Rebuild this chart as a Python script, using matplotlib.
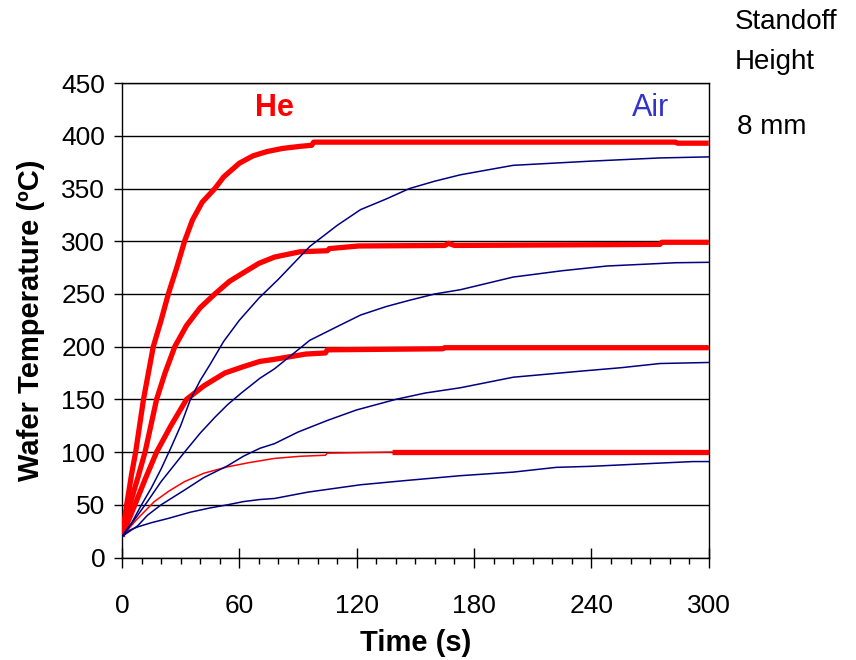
import numpy as np
import matplotlib
matplotlib.use("Agg")
import matplotlib.pyplot as plt
from matplotlib.ticker import MultipleLocator

plt.rcParams['font.family'] = ['Liberation Sans', 'DejaVu Sans']

# He (thick red) curves
he400_t = [0, 2.4, 5, 7, 9, 11, 13.5, 16, 20, 23.7, 28, 32, 36, 41, 47.5, 52, 60, 67, 74, 82, 91, 97, 98, 283, 284, 300]
he400_v = [20, 50, 80, 100, 125, 150, 175, 200, 225, 250, 275, 300, 320, 337, 350, 361, 374, 381, 385, 388, 390, 391, 394, 394, 393, 393]

he300_t = [0, 4, 8, 11.8, 17.7, 22, 27, 33, 40, 47.5, 55, 62, 70, 78, 91, 105, 106, 121, 165, 167, 170, 275, 276, 300]
he300_v = [20, 50, 75, 100, 150, 175, 200, 220, 237, 250, 262, 270, 279, 285, 290, 291, 293, 295.5, 296, 298, 296, 297, 299, 299]

he200_t = [0, 6.6, 12, 17.7, 25, 33, 42, 52.6, 62, 70.5, 78, 94, 104, 105, 164, 165, 300]
he200_v = [20, 50, 75, 100, 125, 150, 163, 175, 181, 186, 188, 193, 194, 197, 198, 199, 199]

# He 100 curve: thin up to he100_split, thick afterwards
he100_t = [0, 7, 16.5, 24, 32, 42, 54, 65, 78, 91, 104, 105, 137.8, 300]
he100_v = [20, 35, 53, 63, 72, 80, 86, 90, 94, 96, 97, 99, 100, 100]
he100_split = 137.8

# Air (thin navy) curves
air400_t = [0, 5, 10, 15, 20, 25, 30, 35, 40, 45, 52, 60, 70, 80, 96, 110, 122, 135, 147, 160, 173, 200, 240, 275, 300]
air400_v = [20, 33, 50, 66, 84, 104, 125, 150, 168, 183, 205, 225, 246, 264, 295, 315, 330, 340, 350, 357, 363, 372, 376, 379, 380]

air300_t = [0, 8, 13, 20, 26, 32, 40, 47.5, 54, 61, 70.5, 78, 96, 110, 122, 135, 147, 160, 173, 200, 225, 248, 283, 300]
air300_v = [20, 40, 53, 72, 86, 100, 118, 133, 145, 156, 170, 179, 206, 219, 230, 238, 244, 250, 254, 266, 272, 276.5, 279.6, 280]

air200_t = [0, 8, 13, 20, 32, 42, 54, 62, 70.5, 78, 90, 105, 120, 140, 155, 173, 200, 236, 255, 275, 300]
air200_v = [20, 30, 40, 50, 64, 76, 87, 96, 103.6, 108, 119, 130, 140, 150, 156, 161, 171, 177, 180, 184, 185]

air100_t = [0, 4, 8, 15, 23.5, 35, 45, 54, 62, 70.5, 78, 95, 122, 145, 173, 200, 222, 240, 265, 292, 300]
air100_v = [20, 26, 29, 33, 37, 43, 47, 50, 53, 55, 56, 62, 69, 73, 77.6, 81, 85.5, 86.5, 88.7, 91, 91]

x_ticks = [0, 60, 120, 180, 240, 300]
y_ticks = list(range(0, 451, 50))

RED = '#FF0000'
NAVY = '#000080'

fig = plt.figure(figsize=(8.56, 6.6), dpi=100)
ax = fig.add_axes([0.1425, 0.1553, 0.6855, 0.7188])

# thick He lines
for t, v in [(he400_t, he400_v), (he300_t, he300_v), (he200_t, he200_v)]:
    ax.plot(t, v, color=RED, lw=3.8, solid_capstyle='butt', zorder=3)

t100 = np.array(he100_t)
v100 = np.array(he100_v)
thin = t100 <= he100_split
thick = t100 >= he100_split
ax.plot(t100[thin], v100[thin], color=RED, lw=1.1, zorder=3)
ax.plot(t100[thick], v100[thick], color=RED, lw=3.8, solid_capstyle='butt', zorder=3)

for t, v in [(air400_t, air400_v), (air300_t, air300_v), (air200_t, air200_v), (air100_t, air100_v)]:
    ax.plot(t, v, color=NAVY, lw=1.1, zorder=4)

ax.set_xlim(0, 300)
ax.set_ylim(0, 450)
ax.set_xticks(x_ticks)
ax.set_yticks(y_ticks)
ax.xaxis.set_minor_locator(MultipleLocator(10))
ax.grid(axis='y', color='black', lw=1.0)
ax.set_axisbelow(True)

for s in ax.spines.values():
    s.set_color('black')
    s.set_linewidth(1.0)

ax.tick_params(axis='x', which='major', direction='inout', length=14, width=1,
               labelsize=19, pad=19)
ax.tick_params(axis='x', which='minor', direction='out', length=4, width=1)
ax.tick_params(axis='y', which='major', direction='out', length=6, width=1,
               labelsize=19, pad=6)

ax.set_xlabel('Time (s)', fontsize=21, fontweight='bold', labelpad=8)
ax.set_ylabel('Wafer Temperature (ºC)', fontsize=21, fontweight='bold', labelpad=12)

ax.text(78, 426, 'He', color=RED, fontsize=22, fontweight='bold', ha='center', va='center')
ax.text(270, 426, 'Air', color='#3333CC', fontsize=22, ha='center', va='center')

fig.text(735 / 856, 1 - 22 / 660, 'Standoff', fontsize=20, ha='left', va='center')
fig.text(735 / 856, 1 - 62 / 660, 'Height', fontsize=20, ha='left', va='center')
fig.text(737 / 856, 1 - 127 / 660, '8 mm', fontsize=20, ha='left', va='center')

fig.savefig('out.png', dpi=100)
